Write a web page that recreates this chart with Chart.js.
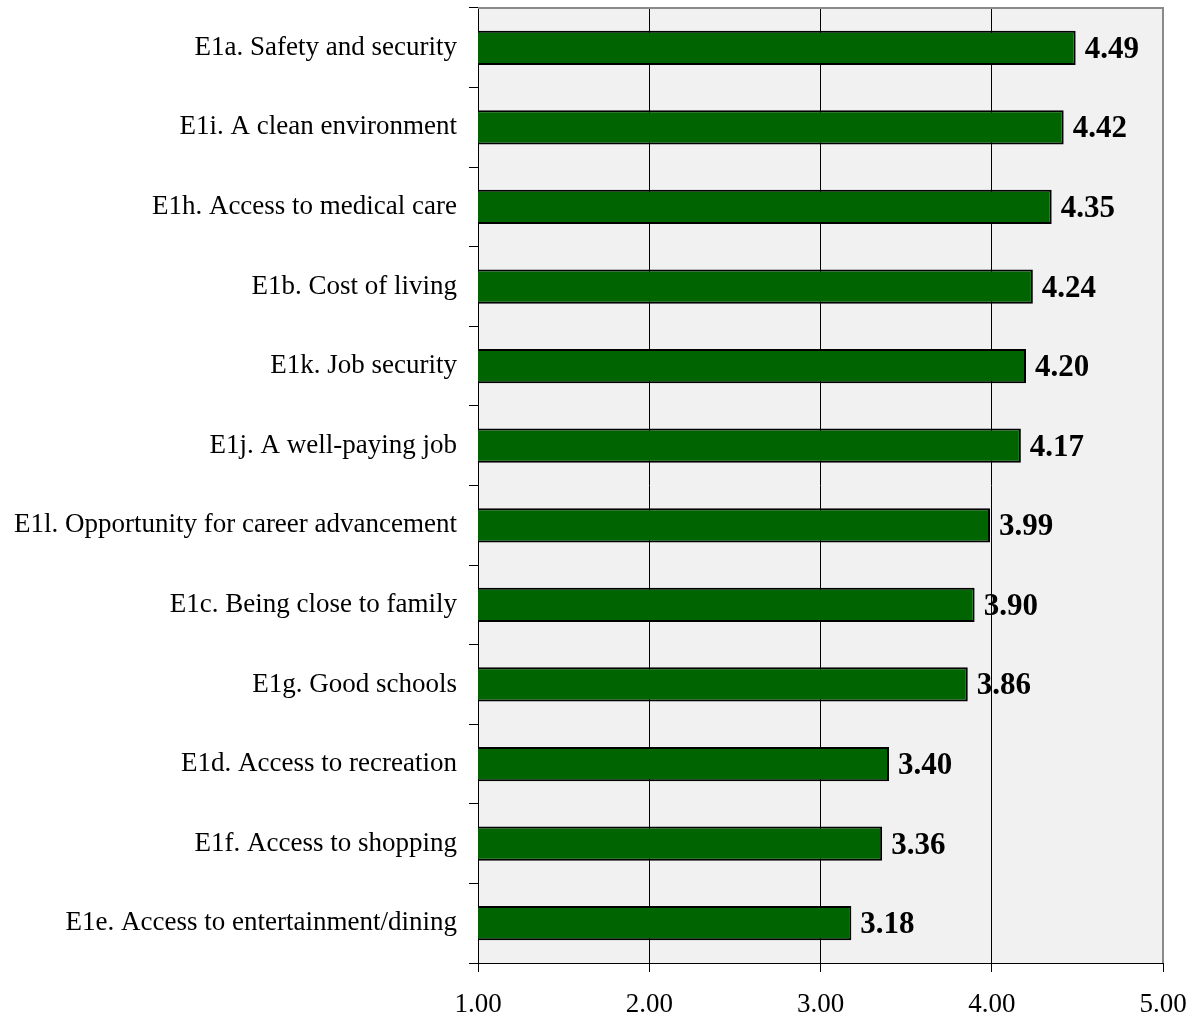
<!DOCTYPE html>
<html>
<head>
<meta charset="utf-8">
<script src="https://cdn.jsdelivr.net/npm/chart.js@4/dist/chart.umd.min.js"></script>
<style>
  html, body { margin: 0; padding: 0; background: #fff; }
  #wrap { width: 1195px; height: 1017px; position: relative; }
</style>
</head>
<body>
<div id="wrap"><canvas id="grafico"></canvas></div>
<script>
// dados
const ITENS = [
    'E1a. Safety and security',
    'E1i. A clean environment',
    'E1h. Access to medical care',
    'E1b. Cost of living',
    'E1k. Job security',
    'E1j. A well-paying job',
    'E1l. Opportunity for career advancement',
    'E1c. Being close to family',
    'E1g. Good schools',
    'E1d. Access to recreation',
    'E1f. Access to shopping',
    'E1e. Access to entertainment/dining'
];
const MEDIAS = [4.49, 4.42, 4.35, 4.24, 4.20, 4.17, 3.99, 3.90, 3.86, 3.40, 3.36, 3.18];

const FONTE = "'Liberation Serif', 'Times New Roman', serif";

// fundo cinza + borda cinza em cima e a direita
const fundoPlugin = {
    id: 'fundo',
    beforeDraw: function(chart) {
        var a = chart.chartArea, ctx = chart.ctx;
        ctx.save();
        ctx.fillStyle = '#f1f1f1';
        ctx.fillRect(a.left, a.top, a.right - a.left, a.bottom - a.top);
        ctx.restore();
    },
    afterDraw: function(chart) {
        var a = chart.chartArea, ctx = chart.ctx;
        ctx.save();
        ctx.strokeStyle = '#8a8a8a';
        ctx.lineWidth = 2;
        ctx.beginPath();
        ctx.moveTo(a.left, a.top);
        ctx.lineTo(a.right, a.top);
        ctx.lineTo(a.right, a.bottom);
        ctx.stroke();
        ctx.restore();
    }
};

// rotulos de valor ao lado das barras
const valoresPlugin = {
    id: 'valores',
    afterDatasetsDraw: function(chart) {
        var ctx = chart.ctx;
        var meta = chart.getDatasetMeta(0);
        ctx.save();
        ctx.font = 'bold 31px ' + FONTE;
        ctx.fillStyle = '#000';
        ctx.textAlign = 'left';
        ctx.textBaseline = 'middle';
        meta.data.forEach(function(bar, i) {
            ctx.fillText(MEDIAS[i].toFixed(2), bar.x + 9, bar.y + 2);
        });
        ctx.restore();
    }
};

new Chart(document.getElementById('grafico'), {
    type: 'bar',
    data: {
        labels: ITENS,
        datasets: [{
            data: MEDIAS,
            backgroundColor: '#006400',
            borderColor: '#000',
            borderWidth: 2,
            borderSkipped: false,
            barPercentage: 0.43,
            categoryPercentage: 1
        }]
    },
    options: {
        indexAxis: 'y',
        responsive: true,
        maintainAspectRatio: false,
        animation: false,
        layout: { padding: { top: 8, right: 32, left: 0, bottom: 0 } },
        plugins: {
            legend: { display: false },
            tooltip: { enabled: false }
        },
        scales: {
            x: {
                min: 1,
                max: 5,
                afterFit: function(s) {
                    s.height = 54;
                    s.paddingLeft = 0;
                    s.paddingRight = 0;
                },
                ticks: {
                    stepSize: 1,
                    color: '#000',
                    padding: 17,
                    font: { family: FONTE, size: 27 },
                    callback: function(v) { return Number(v).toFixed(2); }
                },
                grid: {
                    color: function(c) { return c.tick && c.tick.value === 5 ? '#8a8a8a' : '#000'; },
                    lineWidth: 1,
                    tickColor: '#000',
                    tickLength: 9
                },
                border: { display: true, color: '#000', width: 1 }
            },
            y: {
                afterFit: function(s) {
                    s.width = 478;
                    s.paddingTop = 0;
                    s.paddingBottom = 0;
                },
                ticks: {
                    color: '#000',
                    padding: 12,
                    font: { family: FONTE, size: 27 }
                },
                grid: {
                    drawOnChartArea: false,
                    tickColor: '#000',
                    tickLength: 9
                },
                border: { display: true, color: '#000', width: 1 }
            }
        }
    },
    plugins: [fundoPlugin, valoresPlugin]
});
</script>
</body>
</html>
